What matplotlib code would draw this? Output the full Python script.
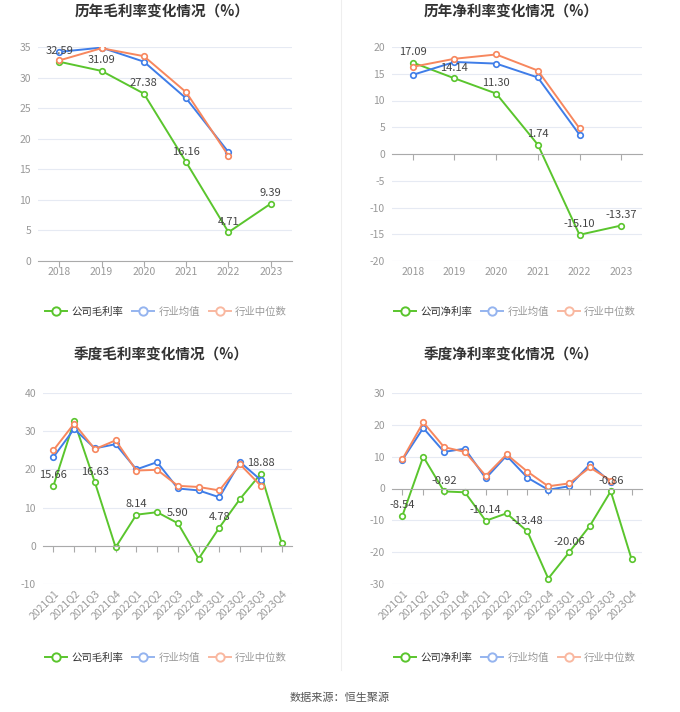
import matplotlib
matplotlib.use('Agg')
import numpy as np
import matplotlib.pyplot as plt
from matplotlib.lines import Line2D

plt.rcParams['font.family'] = ['Noto Sans CJK SC', 'DejaVu Sans']
plt.rcParams['axes.unicode_minus'] = False

years = ['2018', '2019', '2020', '2021', '2022', '2023']
gross_company = [32.59, 31.09, 27.38, 16.16, 4.71, 9.39]
gross_mean = [34.2, 34.9, 32.6, 26.6, 17.8]
gross_median = [32.8, 34.8, 33.5, 27.6, 17.2]

net_company = [17.09, 14.14, 11.30, 1.74, -15.10, -13.37]
net_mean = [14.8, 17.2, 16.9, 14.3, 3.6]
net_median = [16.3, 17.8, 18.6, 15.6, 4.8]

quarters = ['2021Q1', '2021Q2', '2021Q3', '2021Q4', '2022Q1', '2022Q2',
            '2022Q3', '2022Q4', '2023Q1', '2023Q2', '2023Q3', '2023Q4']
q_gross_company = [15.66, 32.6, 16.63, -0.4, 8.14, 8.8, 5.90, -3.4, 4.78, 12.3, 18.88, 0.8]
q_gross_mean = [23.2, 30.6, 25.5, 26.6, 20.0, 21.9, 15.0, 14.5, 12.7, 21.9, 17.2]
q_gross_median = [25.0, 32.0, 25.3, 27.6, 19.7, 19.9, 15.7, 15.4, 14.5, 21.3, 15.7]

q_net_company = [-8.54, 10.0, -0.92, -1.2, -10.14, -7.8, -13.48, -28.3, -20.06, -11.7, -0.86, -22.2]
q_net_mean = [9.0, 19.0, 11.5, 12.5, 3.2, 10.3, 3.4, -0.4, 0.7, 7.6, 2.0]
q_net_median = [9.2, 20.8, 13.0, 11.5, 4.0, 10.7, 5.3, 0.7, 1.6, 6.6, 2.5]

GREEN = '#5ac52d'
BLUE = '#3f7de8'
ORANGE = '#f7875e'

W, H = 680, 712
fig = plt.figure(figsize=(W / 100, H / 100), dpi=100)


def px_axes(left, top, right, bottom):
    return fig.add_axes([left / W, 1 - bottom / H, (right - left) / W, (bottom - top) / H])


def draw(ax, cats, comp, mean, med, yticks, label_idx, rotate):
    x = np.arange(len(cats))
    ax.set_xlim(-0.5, len(cats) - 0.5)
    ax.set_ylim(yticks[0], yticks[-1])
    for s in ax.spines.values():
        s.set_visible(False)
    ax.set_yticks(yticks)
    ax.tick_params(axis='y', length=0, pad=5, labelsize=7.5, labelcolor='#999999')
    ax.grid(axis='y', color='#e6eaf3', lw=0.8)
    ax.set_axisbelow(True)

    # axis line sits on zero, labels stay at the bottom
    ax.spines['bottom'].set_visible(True)
    ax.spines['bottom'].set_position(('data', 0))
    ax.spines['bottom'].set_color('#aaaaaa')
    ax.set_xticks(x)
    ax.tick_params(axis='x', length=4, width=0.8, color='#aaaaaa', labelbottom=False)

    sec = ax.secondary_xaxis(0)
    for s in sec.spines.values():
        s.set_visible(False)
    sec.set_xticks(x)
    if rotate:
        sec.set_xticklabels(cats, rotation=45, ha='right', rotation_mode='anchor')
        sec.tick_params(length=0, pad=3, labelsize=7.5, labelcolor='#999999')
    else:
        sec.set_xticklabels(cats)
        sec.tick_params(length=0, pad=4, labelsize=7.5, labelcolor='#999999')

    kw = dict(lw=1.4, marker='o', markersize=4, markerfacecolor='white', markeredgewidth=1.2)
    ax.plot(x, comp, color=GREEN, **kw)
    ax.plot(x[:len(mean)], mean, color=BLUE, **kw)
    ax.plot(x[:len(med)], med, color=ORANGE, **kw)

    for i in label_idx:
        ax.annotate(f'{comp[i]:.2f}', (x[i], comp[i]), xytext=(0, 4), textcoords='offset points',
                    ha='center', va='bottom', fontsize=8, color='#444444')


def legend(names, cx, cy):
    handles = [
        Line2D([], [], color=GREEN, lw=1.4, marker='o', markersize=6, markerfacecolor='white', markeredgewidth=1.4),
        Line2D([], [], color='#95b4ef', lw=1.4, marker='o', markersize=6, markerfacecolor='white', markeredgewidth=1.4),
        Line2D([], [], color='#f9b8a0', lw=1.4, marker='o', markersize=6, markerfacecolor='white', markeredgewidth=1.4),
    ]
    leg = fig.legend(handles, names, loc='center', bbox_to_anchor=(cx / W, 1 - cy / H), ncol=3,
                     frameon=False, fontsize=7.5, handlelength=2.1, handletextpad=0.4, columnspacing=0.9)
    for t, c in zip(leg.get_texts(), ['#333333', '#999999', '#999999']):
        t.set_color(c)


ax1 = px_axes(38, 47, 292, 261)
draw(ax1, years, gross_company, gross_mean, gross_median, list(range(0, 36, 5)), range(6), False)
ax2 = px_axes(392, 47, 642, 261)
draw(ax2, years, net_company, net_mean, net_median, list(range(-20, 21, 5)), range(6), False)
ax3 = px_axes(43, 393, 292, 584)
draw(ax3, quarters, q_gross_company, q_gross_mean, q_gross_median, list(range(-10, 41, 10)), range(0, 12, 2), True)
ax4 = px_axes(392, 393, 642, 584)
draw(ax4, quarters, q_net_company, q_net_mean, q_net_median, list(range(-30, 31, 10)), range(0, 12, 2), True)

title_kw = dict(ha='center', va='center', fontsize=10.5, fontweight='bold', color='#333333')
fig.text(162 / W, 1 - 12 / H, '历年毛利率变化情况（%）', **title_kw)
fig.text(511 / W, 1 - 12 / H, '历年净利率变化情况（%）', **title_kw)
fig.text(161 / W, 1 - 355 / H, '季度毛利率变化情况（%）', **title_kw)
fig.text(511 / W, 1 - 355 / H, '季度净利率变化情况（%）', **title_kw)

legend(['公司毛利率', '行业均值', '行业中位数'], 166, 312)
legend(['公司净利率', '行业均值', '行业中位数'], 515, 312)
legend(['公司毛利率', '行业均值', '行业中位数'], 166, 658)
legend(['公司净利率', '行业均值', '行业中位数'], 515, 658)

fig.add_artist(Line2D([341 / W, 341 / W], [1 - 670 / H, 1.0], transform=fig.transFigure, color='#eeeeee', lw=0.8))
fig.text(340 / W, 1 - 698 / H, '数据来源：恒生聚源', ha='center', va='center', fontsize=8, color='#555555')

fig.savefig('out.png', dpi=100)
